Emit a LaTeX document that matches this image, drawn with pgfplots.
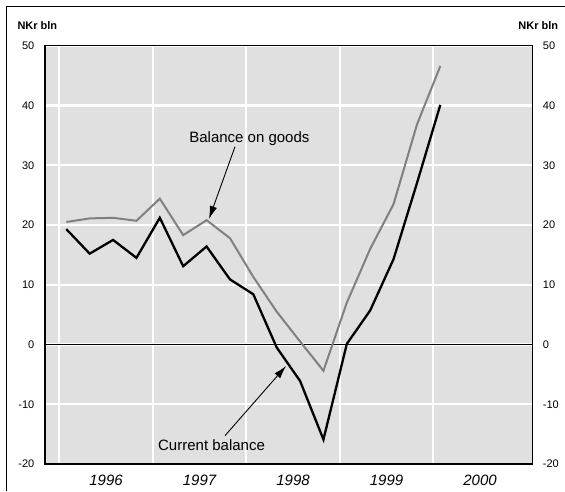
\documentclass[border=0pt]{standalone}
\usepackage{fontspec}
\setmainfont{Liberation Sans}
\usepackage{pgfplots}
\pgfplotsset{compat=1.18}
\usetikzlibrary{arrows.meta}
\definecolor{bggray}{RGB}{224,224,224}
\definecolor{goodsgray}{RGB}{128,128,128}
\pgfplotstableread{
x       cur    goods
1996.075 19.3  20.5
1996.325 15.2  21.1
1996.575 17.5  21.2
1996.825 14.5  20.7
1997.075 21.2  24.4
1997.325 13.1  18.3
1997.575 16.4  20.8
1997.825 10.9  17.8
1998.075  8.4  11.3
1998.325 -0.5   5.5
1998.575 -6.1   0.5
1998.825 -15.9 -4.4
1999.075  0.1   7.0
1999.325  5.7  16.0
1999.575 14.3  23.5
1999.825 27.0  36.8
2000.075 40.1  46.6
}\datatable
\begin{document}
\begin{tikzpicture}[x=1pt,y=1pt]
\useasboundingbox (0,0) rectangle (565,491);
\draw[line width=1.2pt] (6.7,0) -- (6.7,484.3) -- (565,484.3);
\node[anchor=west, inner sep=0pt, font=\bfseries\fontsize{11}{13}\selectfont] at (17.3,465.7) {NKr bln};
\node[anchor=east, inner sep=0pt, font=\bfseries\fontsize{11}{13}\selectfont] at (558.3,465.7) {NKr bln};
\begin{axis}[
  at={(45pt,27pt)}, anchor=south west, scale only axis,
  width=487.7pt, height=418.3pt,
  xmin=1995.847, xmax=2001.063, ymin=-20, ymax=50,
  ytick={-20,-10,...,50},
  xtick={1996.5,1997.5,1998.5,1999.5,2000.5},
  xticklabels={1996,1997,1998,1999,2000},
  minor xtick={1996,1997,1998,1999,2000},
  xmajorgrids=false, xminorgrids=true, ymajorgrids=true,
  major grid style={white, line width=2.3pt},
  minor grid style={white, line width=2.3pt},
  major tick length=0pt, minor tick length=0pt,
  axis background/.style={fill=bggray},
  axis line style={line width=1.2pt},
  /pgf/number format/assume math mode=true,
  yticklabel style={font=\fontsize{11}{13}\selectfont, inner sep=0pt},
  yticklabel shift=10.5pt,
  xticklabel style={font=\fontsize{15}{18}\selectfont\itshape, inner sep=0pt},
  xticklabel shift=11pt,
  clip=false,
]
\addplot[black, line width=1.6pt] coordinates {(1995.847,0) (2001.063,0)};
\addplot[goodsgray, line width=2pt, line join=miter] table[x=x, y=goods] {\datatable};
\addplot[black, line width=2.3pt, line join=miter] table[x=x, y=cur] {\datatable};
\draw[line width=1.2pt] (rel axis cs:0,0) rectangle (rel axis cs:1,1);
\node[anchor=base, font=\fontsize{15}{18}\selectfont] at (axis cs:1998.033,33.8) {Balance on goods};
\draw[line width=0.9pt, -{Latex[length=13pt,width=7.5pt]}] (axis cs:1997.879,33.1) -- (axis cs:1997.601,21.0);
\node[anchor=base, font=\fontsize{15}{18}\selectfont] at (axis cs:1997.628,-17.82) {Current balance};
\draw[line width=0.9pt, -{Latex[length=13pt,width=7.5pt]}] (axis cs:1997.772,-15.26) -- (axis cs:1998.425,-3.60);
\end{axis}
\begin{axis}[
  at={(45pt,27pt)}, anchor=south west, scale only axis,
  width=487.7pt, height=418.3pt,
  xmin=1995.847, xmax=2001.063, ymin=-20, ymax=50,
  axis x line=none, axis y line*=right,
  ytick={-20,-10,...,50},
  major tick length=0pt,
  axis line style={line width=1.2pt},
  /pgf/number format/assume math mode=true,
  yticklabel style={font=\fontsize{11}{13}\selectfont, inner sep=0pt},
  yticklabel shift=10pt,
]
\addplot[draw=none] coordinates {(1996,0)};
\end{axis}
\end{tikzpicture}
\end{document}
